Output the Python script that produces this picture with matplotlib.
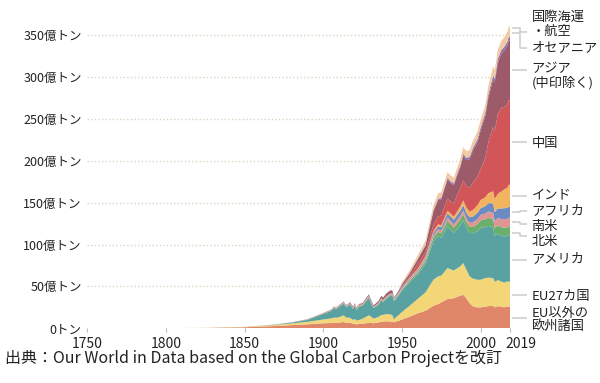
import matplotlib
matplotlib.use("Agg")
import matplotlib.pyplot as plt
import matplotlib.transforms as mtransforms
import numpy as np

plt.rcParams['font.family'] = ['Noto Sans CJK JP', 'DejaVu Sans']

years = [1750, 1775, 1800, 1825, 1850, 1860, 1870, 1880, 1890, 1900, 1905, 1907, 1908, 1910,
         1913, 1914, 1915, 1917, 1919, 1920, 1921, 1923, 1925, 1929, 1930, 1932, 1935, 1937,
         1938, 1940, 1943, 1944, 1945, 1946, 1948, 1950, 1955, 1960, 1965, 1970, 1973, 1975,
         1979, 1981, 1983, 1985, 1987, 1989, 1991, 1993, 1995, 1998, 2000, 2003, 2005, 2008,
         2009, 2011, 2013, 2015, 2017, 2018, 2019]

# values in 億トン (100 million tonnes)
europe_non_eu = [0.08, 0.12, 0.22, 0.45, 1.3, 2.0, 2.8, 3.8, 4.8, 6.0, 6.3, 6.8, 6.6, 6.8,
                 7.5, 7.0, 6.8, 6.5, 5.5, 5.5, 4.5, 5.5, 5.5, 6.5, 6.5, 6.0, 7.0, 8.0,
                 8.0, 8.5, 8.0, 8.0, 7.0, 8.0, 9.0, 10.5, 14.0, 18.0, 21.0, 27.0, 29.0, 31.0,
                 35.0, 35.5, 36.0, 37.5, 39.0, 40.0, 36.0, 30.0, 26.5, 25.0, 25.0, 26.0, 26.5, 27.0,
                 25.0, 26.5, 26.0, 25.0, 26.0, 26.0, 25.7]
eu27 = [0.02, 0.03, 0.05, 0.1, 0.4, 0.8, 1.3, 2.0, 3.0, 4.5, 5.5, 6.0, 6.0, 6.5,
        8.0, 6.5, 6.0, 6.0, 4.5, 5.5, 4.8, 4.5, 6.0, 9.0, 8.0, 5.5, 6.5, 8.0,
        8.0, 8.5, 8.5, 7.5, 3.5, 5.0, 7.0, 9.0, 13.0, 17.0, 22.0, 31.0, 33.0, 32.0,
        37.0, 35.0, 33.0, 34.0, 35.0, 38.0, 34.0, 32.0, 33.0, 33.0, 33.0, 34.0, 34.0, 33.0,
        30.5, 31.0, 30.0, 29.5, 30.0, 30.0, 29.0]
usa = [0.0, 0.0, 0.01, 0.02, 0.05, 0.15, 0.4, 1.0, 2.3, 6.6, 9.0, 11.5, 10.0, 12.0,
       14.0, 12.8, 12.5, 16.0, 13.0, 16.0, 12.4, 16.0, 15.5, 21.0, 17.0, 12.5, 14.5, 17.5,
       15.0, 18.2, 22.5, 23.0, 22.0, 21.5, 23.5, 25.5, 28.0, 29.0, 34.0, 46.0, 48.0, 45.0,
       50.0, 47.0, 45.0, 47.0, 49.0, 51.0, 50.0, 52.0, 54.0, 58.0, 62.0, 61.0, 62.0, 60.0,
       55.0, 55.5, 55.0, 55.0, 54.5, 56.0, 55.5]
north_america = [0.0, 0.0, 0.0, 0.0, 0.01, 0.02, 0.05, 0.1, 0.2, 0.3, 0.4, 0.5, 0.5, 0.5,
                 0.6, 0.5, 0.5, 0.6, 0.5, 0.6, 0.5, 0.6, 0.6, 0.8, 0.7, 0.6, 0.7, 0.8,
                 0.8, 0.9, 1.0, 1.0, 1.0, 1.0, 1.1, 1.3, 2.0, 2.6, 3.3, 4.5, 5.3, 5.5,
                 6.5, 6.7, 6.3, 6.6, 6.9, 7.3, 7.0, 7.2, 7.6, 8.4, 9.0, 9.3, 9.8, 10.0,
                 9.5, 10.0, 10.2, 10.4, 10.3, 10.5, 10.5]
south_america = [0.0, 0.0, 0.0, 0.0, 0.0, 0.01, 0.02, 0.05, 0.08, 0.1, 0.15, 0.2, 0.2, 0.25,
                 0.3, 0.25, 0.25, 0.25, 0.25, 0.3, 0.3, 0.35, 0.35, 0.4, 0.4, 0.35, 0.4, 0.5,
                 0.5, 0.5, 0.5, 0.5, 0.6, 0.7, 0.8, 1.0, 1.3, 1.7, 2.1, 2.5, 3.0, 3.2,
                 4.0, 4.0, 3.8, 3.9, 4.2, 4.4, 4.5, 4.8, 5.3, 6.0, 6.5, 6.7, 7.2, 8.0,
                 7.8, 8.8, 9.5, 10.5, 10.0, 10.0, 10.0]
africa = [0.0, 0.0, 0.0, 0.0, 0.0, 0.0, 0.01, 0.02, 0.05, 0.1, 0.12, 0.15, 0.15, 0.2,
          0.25, 0.25, 0.25, 0.25, 0.25, 0.3, 0.3, 0.3, 0.35, 0.4, 0.4, 0.35, 0.4, 0.5,
          0.5, 0.6, 0.6, 0.6, 0.6, 0.7, 0.8, 1.0, 1.2, 1.5, 2.0, 3.0, 3.6, 3.9,
          4.9, 5.4, 5.6, 6.0, 6.2, 6.4, 6.5, 6.6, 7.0, 7.6, 8.0, 9.0, 10.0, 11.2,
          11.0, 11.5, 12.5, 13.0, 13.2, 13.4, 13.5]
india = [0.0, 0.0, 0.0, 0.0, 0.01, 0.02, 0.03, 0.05, 0.1, 0.2, 0.25, 0.3, 0.3, 0.3,
         0.35, 0.35, 0.35, 0.4, 0.35, 0.4, 0.4, 0.4, 0.4, 0.45, 0.45, 0.4, 0.45, 0.5,
         0.5, 0.55, 0.6, 0.6, 0.6, 0.6, 0.65, 0.7, 0.8, 1.2, 1.6, 2.0, 2.3, 2.6,
         3.0, 3.3, 3.7, 4.3, 4.9, 5.6, 6.2, 6.8, 7.8, 9.0, 9.8, 10.5, 12.0, 14.5,
         15.8, 17.5, 20.0, 22.5, 24.0, 26.0, 26.0]
china = [0.0, 0.0, 0.0, 0.0, 0.0, 0.01, 0.02, 0.03, 0.05, 0.1, 0.12, 0.15, 0.15, 0.2,
         0.25, 0.25, 0.25, 0.3, 0.3, 0.3, 0.3, 0.3, 0.3, 0.35, 0.35, 0.35, 0.4, 0.5,
         0.5, 0.6, 0.6, 0.5, 0.3, 0.4, 0.5, 0.8, 2.0, 6.0, 4.9, 7.7, 9.5, 11.5,
         14.5, 14.5, 15.5, 19.6, 21.5, 24.0, 25.5, 28.5, 32.5, 34.5, 36.7, 47.0, 61.5, 77.0,
         81.0, 95.6, 100.0, 98.6, 99.6, 101.0, 102.0]
asia_other = [0.0, 0.0, 0.0, 0.0, 0.0, 0.01, 0.03, 0.1, 0.2, 0.3, 0.4, 0.5, 0.5, 0.6,
              0.7, 0.7, 0.7, 0.8, 0.9, 1.0, 0.9, 1.0, 1.1, 1.5, 1.4, 1.3, 1.8, 2.5,
              2.6, 3.0, 3.2, 2.8, 1.0, 1.3, 1.8, 2.5, 3.5, 5.0, 8.0, 16.0, 19.5, 19.5,
              23.0, 22.0, 22.0, 23.0, 25.0, 29.0, 31.0, 34.0, 38.0, 41.0, 46.0, 50.0, 53.0, 57.0,
              58.0, 61.0, 64.0, 67.0, 70.0, 71.0, 71.0]
oceania = [0.0, 0.0, 0.0, 0.0, 0.01, 0.02, 0.03, 0.05, 0.08, 0.1, 0.12, 0.15, 0.15, 0.15,
           0.2, 0.2, 0.2, 0.2, 0.2, 0.2, 0.2, 0.2, 0.25, 0.3, 0.3, 0.25, 0.3, 0.3,
           0.3, 0.35, 0.4, 0.4, 0.4, 0.4, 0.45, 0.5, 0.7, 0.9, 1.0, 1.2, 1.5, 1.6,
           1.9, 2.1, 2.1, 2.3, 2.5, 2.7, 2.8, 2.9, 3.1, 3.5, 3.8, 4.0, 4.2, 4.4,
           4.4, 4.5, 4.5, 4.5, 4.6, 4.5, 4.5]
shipping = [0.0, 0.0, 0.0, 0.0, 0.0, 0.0, 0.0, 0.0, 0.0, 0.0, 0.0, 0.0, 0.0, 0.0,
            0.0, 0.0, 0.0, 0.0, 0.0, 0.0, 0.0, 0.0, 0.0, 0.0, 0.0, 0.0, 0.0, 0.0,
            0.0, 0.0, 0.0, 0.0, 0.0, 0.0, 0.0, 2.0, 3.0, 4.0, 5.0, 6.0, 6.5, 6.5,
            7.0, 7.0, 7.0, 7.0, 7.5, 8.0, 8.0, 8.0, 8.5, 9.0, 9.0, 9.5, 10.0, 11.0,
            10.5, 11.0, 11.0, 11.5, 12.0, 12.5, 12.0]

series = [europe_non_eu, eu27, usa, north_america, south_america, africa,
          india, china, asia_other, oceania, shipping]
labels = ['EU以外の\n欧州諸国', 'EU27カ国', 'アメリカ', '北米', '南米', 'アフリカ',
          'インド', '中国', 'アジア\n(中印除く)', 'オセアニア', '国際海運\n・航空']
colors = ['#E0876A', '#F2D677', '#5AA2A2', '#6AAF6B', '#E19494', '#6B8CC3',
          '#F2B45F', '#D25658', '#9D5A69', '#8A70B0', '#F3C9A2']

# label placement (data y of label, data y at chart edge)
label_y = [9.3, 38, 83, 104, 122, 141, 159, 221, 301.5, 335, 363]
leader_start = [12, 40, 82, 114, 127, 139, 158, 222, 309, 353, 359]
leader_end = [12, 40, 82, 110, 125, 140, 158, 222, 309, 335, 354]

xticks = [1750, 1800, 1850, 1900, 1950, 2000, 2019]
yticks = [0, 50, 100, 150, 200, 250, 300, 350]
ytick_labels = ['0トン'] + [f'{v}億トン' for v in yticks[1:]]

fig = plt.figure(figsize=(6.0, 3.83), dpi=100)
ax = fig.add_axes([0.1455, 0.1428, 0.7053, 0.8196])

ax.stackplot(years, *series, colors=colors, linewidth=0)

ax.set_xlim(1750, 2019)
ax.set_ylim(0, 375)

for s in ax.spines.values():
    s.set_visible(False)

ax.set_yticks(yticks)
ax.set_yticklabels(ytick_labels, fontsize=9, color='#222222')
ax.tick_params(axis='y', length=0, pad=4)
for v in yticks[1:]:
    ax.axhline(v, color='#DCD3C2', lw=1.0, ls=(0, (1, 1.6)), zorder=0)

ax.set_xticks(xticks)
ax.set_xticklabels([str(x) for x in xticks], fontsize=10, color='#222222')
ax.tick_params(axis='x', length=3, width=0.8, color='#BBBBBB', pad=3.5)
lbl = ax.get_xticklabels()[-1]
lbl.set_transform(lbl.get_transform() + mtransforms.ScaledTranslation(10/100, 0, fig.dpi_scale_trans))

trans = mtransforms.blended_transform_factory(ax.transAxes, ax.transData)
for lab, ly, ys, ye in zip(labels, label_y, leader_start, leader_end):
    ax.plot([1.003, 1.022, 1.022, 1.04], [ys, ys, ye, ye], transform=trans,
            color='#CCCCCC', lw=1.1, clip_on=False, solid_capstyle='butt')
    ax.text(1.05, ly, lab, transform=trans, fontsize=9.5, va='center', ha='left',
            color='#222222', linespacing=1.05)

fig.text(0.008, 0.064, '出典：Our World in Data based on the Global Carbon Projectを改訂',
         fontsize=11.5, color='#222222', va='center', ha='left')

fig.savefig('out.png', dpi=100)
